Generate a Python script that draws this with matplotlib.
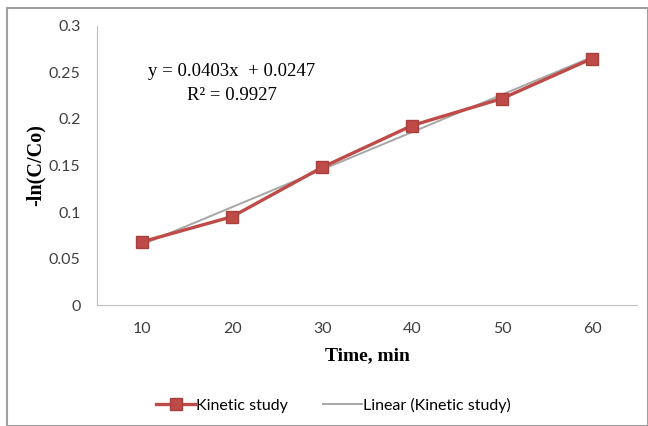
import numpy as np
import matplotlib.pyplot as plt
from matplotlib.patches import Rectangle

# data
time_min = ['10', '20', '30', '40', '50', '60']
ln_ratio = [0.068, 0.095, 0.148, 0.193, 0.222, 0.265]
trend_slope = 0.0403
trend_intercept = 0.0247
r_squared = 0.9927

red = '#BE4B48'
gray = '#A6A6A6'
tick_font = 'Lato'

fig = plt.figure(figsize=(6.48, 4.26), dpi=100)
ax = fig.add_axes([0.150, 0.284, 0.833, 0.655])

idx = np.arange(1, len(time_min) + 1)
ax.plot(idx, ln_ratio, color=red, linewidth=2.4, marker='s', markersize=9,
        markerfacecolor=red, markeredgecolor='#A8403D', label='Kinetic study', zorder=3)
trend = trend_slope * idx + trend_intercept
ax.plot(idx, trend, color=gray, linewidth=1.4, label='Linear (Kinetic study)', zorder=2)

ax.set_xlim(0.5, 6.5)
ax.set_ylim(0, 0.3)
ax.set_xticks(idx)
ax.set_xticklabels(time_min)
yt = [0, 0.05, 0.1, 0.15, 0.2, 0.25, 0.3]
ax.set_yticks(yt)
ax.set_yticklabels(['0', '0.05', '0.1', '0.15', '0.2', '0.25', '0.3'])
ax.tick_params(length=0, labelsize=11.5, colors='#404040', pad=12)
for lab in ax.get_xticklabels() + ax.get_yticklabels():
    lab.set_family(tick_font)
ax.spines['top'].set_visible(False)
ax.spines['right'].set_visible(False)
ax.spines['left'].set_color('#BFBFBF')
ax.spines['bottom'].set_color('#BFBFBF')

ax.set_xlabel('Time, min', family='Liberation Serif', fontweight='bold', fontsize=14, labelpad=8)
ax.set_ylabel('-ln(C/Co)', family='Liberation Serif', fontweight='bold', fontsize=14.5, labelpad=2)

ax.text(232 / 648, 1 - 72 / 426, f'y = {trend_slope}x  + {trend_intercept}', transform=fig.transFigure,
        family='Liberation Serif', fontsize=13.5, ha='center', va='center')
ax.text(232 / 648, 1 - 96 / 426, f'R² = {r_squared}', transform=fig.transFigure,
        family='Liberation Serif', fontsize=13.5, ha='center', va='center')

leg = fig.legend(loc='center', bbox_to_anchor=(0.515, 0.049), ncol=2, frameon=False,
                 prop={'family': tick_font, 'size': 11.5}, handlelength=2.4,
                 handletextpad=0.1, columnspacing=2.2)

fig.patches.append(Rectangle((7 / 648, 0), 1 - 7 / 648, 1 - 8 / 426, transform=fig.transFigure,
                             fill=False, edgecolor='#A0A0A0', linewidth=1.5))

fig.savefig('out.png', dpi=100)
